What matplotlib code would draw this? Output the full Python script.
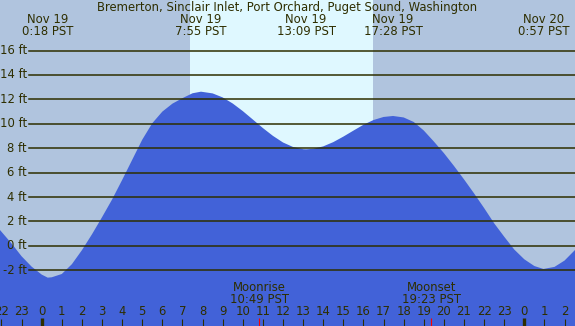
import matplotlib
matplotlib.use("Agg")
import matplotlib.pyplot as plt
from matplotlib.transforms import blended_transform_factory

plt.rcParams['font.family'] = ['DejaVu Sans']

title = "Bremerton, Sinclair Inlet, Port Orchard, Puget Sound, Washington"

# tide height (ft), hours from midnight Nov 19 (PST)
tide_hours = [-2.1, -1.5, -1.0, -0.5, 0.0, 0.3, 0.5, 1.0, 1.5, 2.0, 2.5, 3.0,
              3.5, 4.0, 4.5, 5.0, 5.5, 6.0, 6.5, 7.0, 7.5, 7.92, 8.5, 9.0,
              9.5, 10.0, 10.5, 11.0, 11.5, 12.0, 12.5, 13.0, 13.15, 13.5,
              14.0, 14.5, 15.0, 15.5, 16.0, 16.5, 17.0, 17.47, 18.0, 18.5,
              19.0, 19.5, 20.0, 20.5, 21.0, 21.5, 22.0, 22.5, 23.0, 23.5,
              24.0, 24.5, 24.95, 25.5, 26.0, 26.6]
tide_ft = [1.35, 0.2, -0.85, -1.7, -2.35, -2.6, -2.57, -2.3, -1.5, -0.35,
           0.95, 2.35, 3.8, 5.4, 7.05, 8.7, 10.05, 11.0, 11.65, 12.1, 12.5,
           12.63, 12.49, 12.16, 11.66, 11.04, 10.35, 9.65, 9.01, 8.47, 8.1,
           7.92, 7.91, 7.95, 8.15, 8.5, 8.95, 9.44, 9.92, 10.31, 10.56,
           10.64, 10.52, 10.15, 9.45, 8.55, 7.6, 6.55, 5.45, 4.3, 3.1, 1.85,
           0.75, -0.3, -1.1, -1.65, -1.89, -1.72, -1.2, -0.2]

# high / low tide labels
extreme_dates = ["Nov 19", "Nov 19", "Nov 19", "Nov 19", "Nov 20"]
extreme_times = ["0:18", "7:55", "13:09", "17:28", "0:57"]
extreme_day = [0, 0, 0, 0, 1]

sunrise = "7:23"
sunset = "16:28"
moon_events = ["Moonrise", "Moonset"]
moon_times = ["10:49", "19:23"]

grid_ft = [16, 14, 12, 10, 8, 6, 4, 2, 0, -2]
hour_ticks = list(range(-2, 27))

night_col = "#B0C4DE"
day_col = "#DFF8FF"
water_col = "#4262D8"
ink = "#2E2E00"
fs = 8.4


def to_h(t, day=0):
    hh, mm = t.split(":")
    return day * 24 + int(hh) + int(mm) / 60


W, H = 575, 326
fig = plt.figure(figsize=(W / 100, H / 100), dpi=100)
fig.patch.set_facecolor(night_col)
ax = fig.add_axes([0, 0, 1, 1])
ax.set_axis_off()

# pixel layout: hour 0 at x=41.7, 20.11 px/hour; 0 ft at y=245.9, 12.21 px/ft
ax.set_xlim(-41.7 / 20.11, (W - 41.7) / 20.11)
ax.set_ylim((245.9 - H) / 12.21, 245.9 / 12.21)
tr = blended_transform_factory(ax.transData, ax.transAxes)


def ypx(p):
    return 1 - p / H


ax.axvspan(to_h(sunrise), to_h(sunset), color=day_col, lw=0)
ax.fill_between(tide_hours, tide_ft, -20, color=water_col, lw=0)

for g in grid_ft:
    ax.axhline(g, xmin=29 / W, xmax=1, color=ink, lw=1.1)
    ax.text(27 / W, g, "%d ft" % g, transform=blended_transform_factory(ax.transAxes, ax.transData),
            ha="right", va="center", fontsize=fs, color=ink)

ax.text(0.5, ypx(7.5), title, transform=ax.transAxes, ha="center", va="center",
        fontsize=fs, color=ink)

for d, t, dd in zip(extreme_dates, extreme_times, extreme_day):
    h = to_h(t, dd)
    ax.text(h, ypx(19.5), d, transform=tr, ha="center", va="center", fontsize=fs, color=ink)
    ax.text(h, ypx(31.5), t + " PST", transform=tr, ha="center", va="center", fontsize=fs, color=ink)

for ev, t in zip(moon_events, moon_times):
    h = to_h(t)
    ax.text(h, ypx(287.5), ev, transform=tr, ha="center", va="center", fontsize=fs, color=ink)
    ax.text(h, ypx(299.5), t + " PST", transform=tr, ha="center", va="center", fontsize=fs, color=ink)
    ax.vlines(h, ypx(H), ypx(318), transform=tr, color="red", lw=0.8)

for h in hour_ticks:
    ax.text(h, ypx(311.5), str(h % 24), transform=tr, ha="center", va="center",
            fontsize=fs, color=ink)
    if h % 24 == 0:
        ax.vlines(h, ypx(H), ypx(318), transform=tr, color=ink, lw=2.4)
    else:
        ax.vlines(h, ypx(H), ypx(319), transform=tr, color=ink, lw=0.8)

fig.savefig("out.png", dpi=100, facecolor=fig.get_facecolor())
